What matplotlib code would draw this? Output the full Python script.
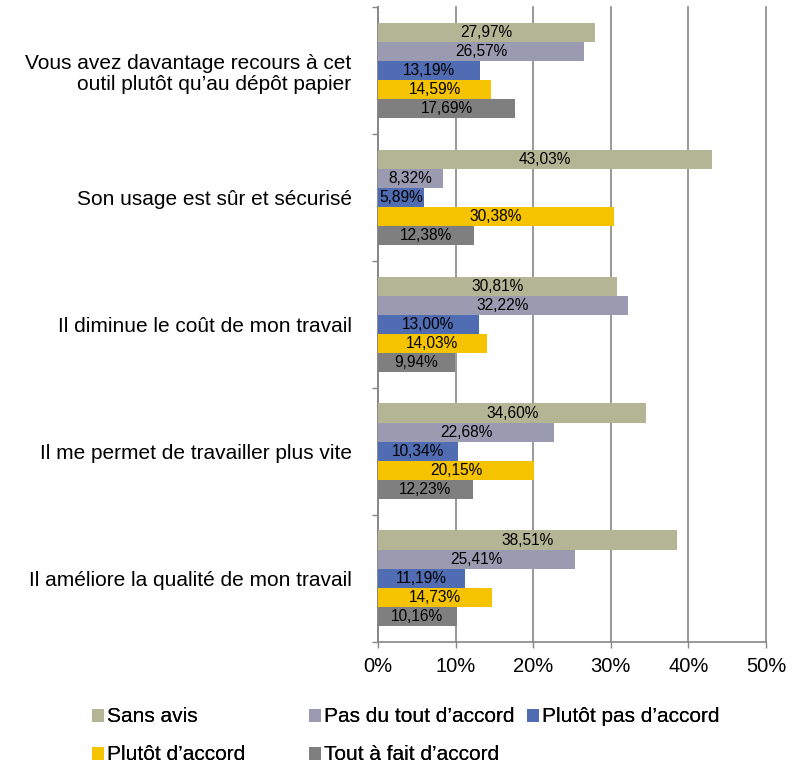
import numpy as np
import matplotlib
matplotlib.use("Agg")
import matplotlib.pyplot as plt

plt.rcParams['font.family'] = ['Liberation Sans', 'DejaVu Sans']

categories = [
    "Vous avez davantage recours à cet\noutil plutôt qu\u2019au dépôt papier",
    "Son usage est sûr et sécurisé",
    "Il diminue le coût de mon travail",
    "Il me permet de travailler plus vite",
    "Il améliore la qualité de mon travail",
]
series = ["Sans avis", "Pas du tout d\u2019accord", "Plutôt pas d\u2019accord",
          "Plutôt d\u2019accord", "Tout à fait d\u2019accord"]
sans_avis = [27.97, 43.03, 30.81, 34.60, 38.51]
pas_du_tout = [26.57, 8.32, 32.22, 22.68, 25.41]
plutot_pas = [13.19, 5.89, 13.00, 10.34, 11.19]
plutot_accord = [14.59, 30.38, 14.03, 20.15, 14.73]
tout_a_fait = [17.69, 12.38, 9.94, 12.23, 10.16]
colors = ["#B4B594", "#9A9AB0", "#506CB2", "#F5C300", "#7F7F7F"]

values = [sans_avis, pas_du_tout, plutot_pas, plutot_accord, tout_a_fait]

fig = plt.figure(figsize=(8.03, 7.65), dpi=100)
ax = fig.add_axes([0.4707, 0.161, 0.4832, 0.8298])

y = np.arange(len(categories))
h = 0.151
handles = []
for k, (vals, name, c) in enumerate(zip(values, series, colors)):
    pos = y + (k - 2) * h
    b = ax.barh(pos, vals, height=h, color=c, label=name, zorder=3)
    handles.append(b)
    for p, v in zip(pos, vals):
        ax.text(v / 2, p, ("%.2f%%" % v).replace(".", ","), ha="center",
                va="center", fontsize=11.2, color="black", zorder=4)

ax.set_xlim(0, 50)
ax.set_ylim(len(categories) - 0.5, -0.5)
ax.set_xticks(np.arange(0, 51, 10))
ax.set_xticklabels(["%d%%" % t for t in range(0, 51, 10)], fontsize=14.5)
ax.set_yticks(y)
ax.set_yticklabels(categories, fontsize=15, linespacing=1.15)
ax.set_yticks(np.arange(-0.5, len(categories), 1), minor=True)
ax.tick_params(axis="y", which="major", length=0, pad=19)
ax.tick_params(axis="y", which="minor", length=4.5, width=1, color="#868686", direction="out")
ax.tick_params(axis="x", length=4, width=1, color="#868686", pad=7)
ax.grid(axis="x", color="#868686", linewidth=1.2, zorder=0)
for gl in ax.get_xgridlines():
    gl.set_clip_on(False)
for s in ["top", "right"]:
    ax.spines[s].set_visible(False)
for s in ["left", "bottom"]:
    ax.spines[s].set_color("#868686")
    ax.spines[s].set_linewidth(1.2)

# legend entries placed like the Excel legend (equal-width columns)
leg_pos = [(92, 717), (309, 717), (527, 717), (92, 755), (309, 755)]
for hdl, name, (px, py) in zip(handles, series, leg_pos):
    lg = fig.legend([hdl], [name], loc="center left",
                    bbox_to_anchor=(px / 803, 1 - py / 765), frameon=False,
                    fontsize=15, handlelength=0.58, handleheight=0.58,
                    handletextpad=0.15, borderaxespad=0, borderpad=0)
    fig.add_artist(lg)

fig.savefig("out.png", dpi=100)
